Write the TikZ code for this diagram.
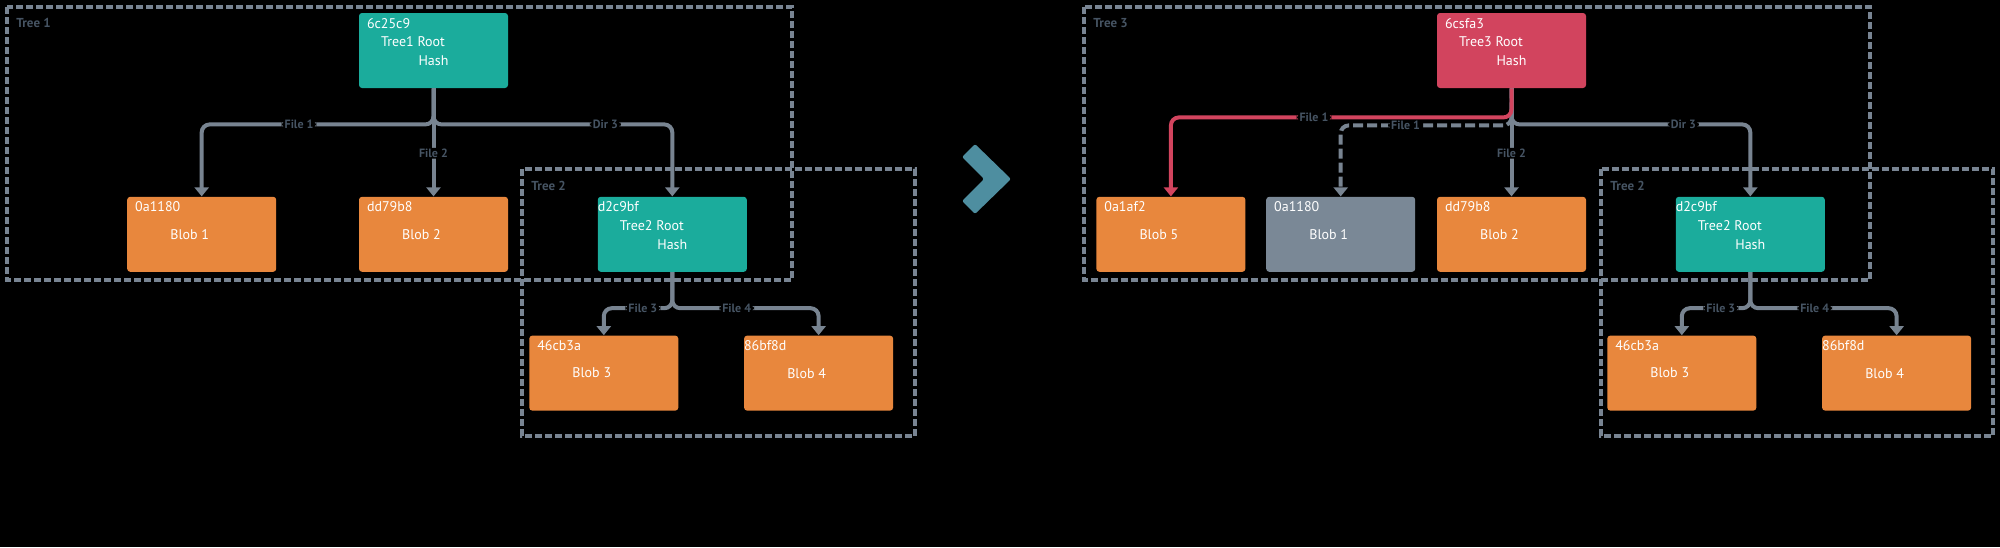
\documentclass[tikz,border=0pt]{standalone}
\usepackage{fontspec}
\setmainfont{PT Sans}
\usetikzlibrary{positioning,arrows.meta}
\definecolor{tealc}{RGB}{27,172,156}
\definecolor{orangec}{RGB}{232,135,61}
\definecolor{redc}{RGB}{210,68,94}
\definecolor{greyc}{RGB}{122,136,150}
\definecolor{linkc}{RGB}{120,132,145}
\definecolor{framec}{RGB}{120,132,146}
\definecolor{labc}{RGB}{70,84,99}
\definecolor{chevc}{RGB}{78,142,160}

\begin{document}
\begin{tikzpicture}[x=0.5pt, y=-0.5pt,
  box/.style = {minimum width=74.5pt, minimum height=37.5pt, inner sep=0pt, rounded corners=1.5pt},
  root/.style = {box, fill=tealc},
  blob/.style = {box, fill=orangec},
  hashid/.style = {anchor=west, xshift=4pt, yshift=-5.25pt, inner sep=0pt, text=white, font=\fontsize{7}{8}\selectfont},
  rtxt/.style = {xshift=-10.25pt, yshift=4.25pt, inner sep=0pt, text=white, font=\fontsize{7}{8}\selectfont},
  htxt/.style = {yshift=-5.25pt, inner sep=0pt, text=white, font=\fontsize{7}{8}\selectfont},
  btxt/.style = {xshift=-6pt, inner sep=0pt, text=white, font=\fontsize{7}{8}\selectfont},
  link/.style = {draw=linkc, line width=2pt, rounded corners=4pt, >={Triangle[width=7pt,length=4.5pt]}},
  flab/.style = {fill=black, text=labc, inner xsep=1.5pt, inner ysep=0.5pt, font=\bfseries\fontsize{6}{7}\selectfont},
  treeframe/.style = {draw=framec, line width=1.6pt, dash pattern=on 3.5pt off 1.5pt},
  tlab/.style = {anchor=west, inner sep=0pt, text=labc, font=\bfseries\fontsize{6.5}{7}\selectfont}]
\fill[black] (0,0) rectangle (2000,547);

\draw[treeframe] (7,7) rectangle (792,280);
\draw[treeframe] (522,169) rectangle (915,436);
\draw[treeframe] (1084,7) rectangle (1870,280);
\draw[treeframe] (1601,169) rectangle (1993,436);
\node[tlab] (t1) at (16,23) {Tree 1};
\node[tlab] (t2) at (531,186) {Tree 2};
\node[tlab] (t3) at (1093,23) {Tree 3};
\node[tlab] (t2r) at (1610,186) {Tree 2};

\node[root, label={[hashid]north west:6c25c9}, label={[rtxt]center:Tree1 Root}, label={[htxt]center:Hash}] (r1) at (433.5,50.5) {};
\node[blob, below=54pt of r1, label={[hashid]north west:dd79b8}, label={[btxt]center:Blob 2}] (b2) {};
\node[blob, left=41pt of b2, label={[hashid]north west:0a1180}, label={[btxt]center:Blob 1}] (b1) {};
\node[root, right=44.5pt of b2, label={[hashid,xshift=-4pt]north west:d2c9bf}, label={[rtxt]center:Tree2 Root}, label={[htxt]center:Hash}] (r2) {};
\node[blob, below=31.5pt of r2, xshift=-34.25pt, label={[hashid]north west:46cb3a}, label={[btxt]center:Blob 3}] (b3) {};
\node[blob, right=32.5pt of b3, label={[hashid,xshift=-4pt]north west:86bf8d}, label={[btxt]center:Blob 4}] (b4) {};

\fill[chevc, rounded corners=1pt] (975,144) -- (1011,179) -- (975,214) -- (962,201) -- (984,179) -- (962,157) -- cycle;

\node[root, fill=redc, label={[hashid]north west:6csfa3}, label={[rtxt]center:Tree3 Root}, label={[htxt]center:Hash}] (r3) at (1511.5,50.5) {};
\node[blob, below=54pt of r3, label={[hashid]north west:dd79b8}, label={[btxt]center:Blob 2}] (b2r) {};
\node[blob, fill=greyc, left=10.5pt of b2r, label={[hashid]north west:0a1180}, label={[btxt]center:Blob 1}] (b1g) {};
\node[blob, left=10pt of b1g, label={[hashid]north west:0a1af2}, label={[btxt]center:Blob 5}] (b5) {};
\node[root, right=44.5pt of b2r, label={[hashid,xshift=-4pt]north west:d2c9bf}, label={[rtxt]center:Tree2 Root}, label={[htxt]center:Hash}] (r2r) {};
\node[blob, below=31.5pt of r2r, xshift=-34.25pt, label={[hashid]north west:46cb3a}, label={[btxt]center:Blob 3}] (b3r) {};
\node[blob, right=32.5pt of b3r, label={[hashid,xshift=-4pt]north west:86bf8d}, label={[btxt]center:Blob 4}] (b4r) {};

\draw[link,->] (r1.south) -- ++(0,36) -| node[flab,pos=0.29] (f1) {File 1} (b1.north);
\draw[link,->] (r1.south) -- ++(0,36) -| node[flab,pos=0.36] (d3) {Dir 3} (r2.north);
\draw[link,->] (r1.south) -- node[flab,pos=0.6] (f2) {File 2} (b2.north);
\draw[link,->] (r2.south) -- ++(0,36) -| node[flab,pos=0.215] (f3) {File 3} (b3.north);
\draw[link,->] (r2.south) -- ++(0,36) -| node[flab,pos=0.22] (f4) {File 4} (b4.north);

\draw[link,->,dash pattern=on 5pt off 2pt] (r3.south) -- ++(0,37) -| node[flab,pos=0.31] (f1g) {File 1} (b1g.north);
\draw[link,->] (r3.south) -- ++(0,36) -| node[flab,pos=0.36] (d3r) {Dir 3} (r2r.north);
\draw[link,->] (r3.south) -- node[flab,pos=0.6] (f2r) {File 2} (b2r.north);
\draw[link,->] (r2r.south) -- ++(0,36) -| node[flab,pos=0.215] (f3r) {File 3} (b3r.north);
\draw[link,->] (r2r.south) -- ++(0,36) -| node[flab,pos=0.22] (f4r) {File 4} (b4r.north);
\draw[link,draw=redc,->] (r3.south) -- ++(0,29) -| node[flab,pos=0.29] (f5) {File 1} (b5.north);
\end{tikzpicture}
\end{document}
